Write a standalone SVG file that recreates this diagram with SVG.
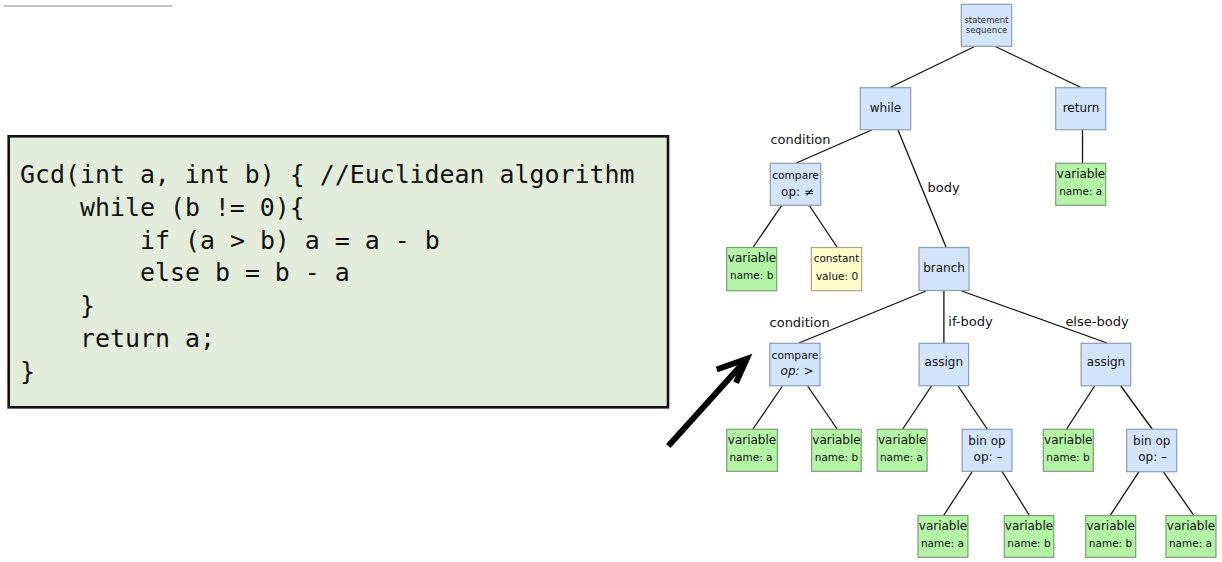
<svg xmlns="http://www.w3.org/2000/svg" width="1222" height="562" viewBox="0 0 1222 562">
<style>
.n rect{stroke-width:1.2}
.b rect{fill:#d2e5fa;stroke:#8c9db2}
.g rect{fill:#b4f5a5;stroke:#7f9c78}
.y rect{fill:#fffccc;stroke:#a8a68a}
text{font-family:"DejaVu Sans","Liberation Sans",sans-serif;fill:#111;text-anchor:middle}
.t12{font-size:12px}
.t10{font-size:10.5px}
.t9{font-size:8.6px;fill:#333}
.lbl{font-size:13px}
.code{font-family:"DejaVu Sans Mono","Liberation Mono",monospace;font-size:24.9px;text-anchor:start;fill:#111}
#edges line{stroke:#111;stroke-width:1.3}
</style>
<line x1="3.5" y1="6" x2="172.5" y2="6" stroke="#c4c4c4" stroke-width="2"/>
<g id="code">
<rect x="8.7" y="136.3" width="659.3" height="271" fill="#e4edda" stroke="#111" stroke-width="2.6"/>
<text class="code" x="20" y="183">Gcd(int a, int b) { //Euclidean algorithm</text>
<text class="code" x="80" y="216">while (b != 0){</text>
<text class="code" x="140" y="248.5">if (a &gt; b) a = a - b</text>
<text class="code" x="140" y="281">else b = b - a</text>
<text class="code" x="80" y="314">}</text>
<text class="code" x="80" y="347">return a;</text>
<text class="code" x="20" y="380">}</text>
</g>
<g id="arrow" fill="none" stroke="#000" stroke-width="6">
<line x1="668.3" y1="446" x2="745" y2="361"/>
<polyline points="716.7,369.5 746.7,359 736,382.7" stroke-linejoin="miter"/>
</g>
<g id="edges">
<line x1="975.7" y1="46" x2="889" y2="88"/>
<line x1="994.3" y1="46" x2="1082" y2="88"/>
<line x1="871.7" y1="130" x2="796.3" y2="163"/>
<line x1="898" y1="130" x2="946" y2="247"/>
<line x1="1082.5" y1="130" x2="1082.5" y2="163"/>
<line x1="782" y1="205" x2="753.3" y2="247"/>
<line x1="809" y1="205" x2="837" y2="247"/>
<line x1="926" y1="291" x2="798.9" y2="343"/>
<line x1="943.9" y1="291" x2="943.9" y2="343"/>
<line x1="961.7" y1="291" x2="1107" y2="343"/>
<line x1="782.5" y1="386" x2="753" y2="429"/>
<line x1="807.6" y1="386" x2="837.1" y2="429"/>
<line x1="931.5" y1="386" x2="902.7" y2="429"/>
<line x1="958.1" y1="386" x2="987.2" y2="429"/>
<line x1="1094.6" y1="386" x2="1066.6" y2="429"/>
<line x1="1120.8" y1="386" x2="1152.2" y2="429"/>
<line x1="972.6" y1="471" x2="943.9" y2="515"/>
<line x1="1001.8" y1="471" x2="1029.1" y2="515"/>
<line x1="1139" y1="471.7" x2="1110" y2="515.7"/>
<line x1="1163.3" y1="471.7" x2="1194" y2="515.7"/>
<text class="lbl" x="800.5" y="144">condition</text>
<text class="lbl" x="943.5" y="192">body</text>
<text class="lbl" x="799.6" y="327">condition</text>
<text class="lbl" x="970.5" y="325.5">if-body</text>
<text class="lbl" x="1097" y="325.5">else-body</text>
</g>
<g id="stmt" class="n b"><rect x="961.3" y="4.3" width="50.4" height="42"/><text class="t9" x="986.5" y="22.5">statement</text><text class="t9" x="986.5" y="33">sequence</text></g>
<g id="while" class="n b"><rect x="860.3" y="87.7" width="50.4" height="42"/><text class="t12" x="885.5" y="111.5">while</text></g>
<g id="return" class="n b"><rect x="1055.7" y="87.7" width="50" height="42"/><text class="t12" x="1081" y="111.5">return</text></g>
<g id="compare1" class="n b"><rect x="770.3" y="163.3" width="50.4" height="42"/><text class="t10" x="795.5" y="178.7" style="font-size:10.7px">compare</text><text class="t12" x="797.5" y="196">op: ≠</text></g>
<g id="var_ret" class="n g"><rect x="1055.7" y="163.3" width="50" height="42"/><text class="t12" x="1081" y="178">variable</text><text class="t10" x="1080.7" y="194.5">name: a</text></g>
<g id="var_b1" class="n g"><rect x="726.7" y="247.5" width="50" height="43.2"/><text class="t12" x="752" y="262">variable</text><text class="t10" x="751.7" y="278.5">name: b</text></g>
<g id="const" class="n y"><rect x="811.3" y="247.5" width="50.4" height="43.2"/><text class="t10" x="836.5" y="261.5">constant</text><text class="t10" x="837" y="279.5">value: 0</text></g>
<g id="branch" class="n b"><rect x="919" y="247.5" width="50" height="43"/><text class="t12" x="944" y="272">branch</text></g>
<g id="compare2" class="n b"><rect x="769.8" y="343.3" width="50.2" height="42.4"/><text class="t10" x="795" y="358.7" style="font-size:10.7px">compare</text><text class="t12" x="797" y="375"><tspan font-style="italic">op:</tspan> &gt;</text></g>
<g id="assign1" class="n b"><rect x="919.1" y="343.3" width="49.5" height="42.4"/><text class="t12" x="943.8" y="366">assign</text></g>
<g id="assign2" class="n b"><rect x="1081.1" y="343.3" width="49.6" height="42.4"/><text class="t12" x="1106" y="366">assign</text></g>
<g id="var_a2" class="n g"><rect x="726.8" y="429.3" width="50.6" height="42"/><text class="t12" x="752" y="444">variable</text><text class="t10" x="751" y="460.8">name: a</text></g>
<g id="var_b2" class="n g"><rect x="811.6" y="429.3" width="49.6" height="42"/><text class="t12" x="836.5" y="444">variable</text><text class="t10" x="836.4" y="460.8">name: b</text></g>
<g id="var_a3" class="n g"><rect x="877.2" y="429.3" width="49.9" height="42"/><text class="t12" x="902.2" y="444">variable</text><text class="t10" x="901.5" y="460.8">name: a</text></g>
<g id="binop1" class="n b"><rect x="962.1" y="429.3" width="49.9" height="42"/><text class="t12" x="987" y="444.7">bin op</text><text class="t12" x="988" y="461">op: –</text></g>
<g id="var_b3" class="n g"><rect x="1043.3" y="429.3" width="50" height="42"/><text class="t12" x="1068.3" y="444">variable</text><text class="t10" x="1068" y="460.8">name: b</text></g>
<g id="binop2" class="n b"><rect x="1126.7" y="429.3" width="50" height="42.4"/><text class="t12" x="1151.7" y="444.7">bin op</text><text class="t12" x="1152.7" y="461">op: –</text></g>
<g id="var_a4" class="n g"><rect x="918" y="515.5" width="49.9" height="41.8"/><text class="t12" x="943" y="530">variable</text><text class="t10" x="942.5" y="546.8">name: a</text></g>
<g id="var_b4" class="n g"><rect x="1004.3" y="515.5" width="49.5" height="41.8"/><text class="t12" x="1029" y="530">variable</text><text class="t10" x="1029" y="546.8">name: b</text></g>
<g id="var_b5" class="n g"><rect x="1085.7" y="515.5" width="50" height="41.8"/><text class="t12" x="1110.7" y="530">variable</text><text class="t10" x="1110.5" y="546.8">name: b</text></g>
<g id="var_a5" class="n g"><rect x="1166" y="515.5" width="50" height="41.8"/><text class="t12" x="1191" y="530">variable</text><text class="t10" x="1190.5" y="546.8">name: a</text></g>
</svg>
